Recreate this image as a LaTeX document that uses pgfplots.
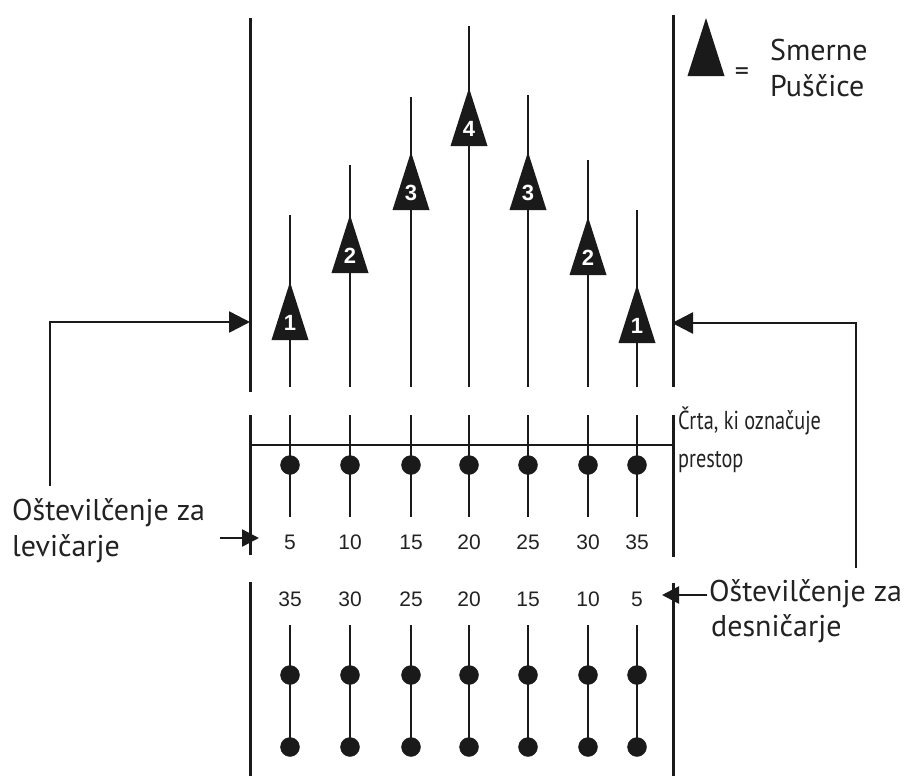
\documentclass[border=0pt]{standalone}
\usepackage{fontspec}
\setmainfont{PT Sans}
\newfontfamily\condfont[FakeStretch=0.78]{PT Sans}
\newfontfamily\numfont{Liberation Sans}
\usepackage{pgfplots}
\pgfplotsset{compat=1.18}
\usetikzlibrary{arrows.meta}

% tall target-arrow triangle, origin = centre of its digit
\pgfdeclareplotmark{arw}{%
  \pgfpathmoveto{\pgfqpoint{0pt}{41pt}}%
  \pgfpathlineto{\pgfqpoint{18.5pt}{-17pt}}%
  \pgfpathlineto{\pgfqpoint{-18.5pt}{-17pt}}%
  \pgfpathclose\pgfusepathqfill}

\definecolor{ink}{HTML}{1A1A1A}
\definecolor{txt}{HTML}{222222}

\begin{document}
\begin{tikzpicture}
\begin{axis}[
  x=1pt, y=1pt, y dir=reverse,
  xmin=0, xmax=913, ymin=0, ymax=776,
  hide axis, clip=false,
  unbounded coords=jump,
]
\addplot[draw=none, forget plot] coordinates {(0,0) (913,776)};

% lane edges
\addplot[ink, line width=3pt] coordinates {
  (250,18) (250,392) (nan,nan) (250,415) (250,555) (nan,nan) (250,582) (250,776) (nan,nan)
  (673,15) (673,387) (nan,nan) (673,415) (673,557) (nan,nan) (673,583) (673,776)};
% foul line
\addplot[ink, line width=2.4pt] coordinates {(250,445) (673,445)};

% boards above the foul line
\addplot[ink, line width=2.6pt] coordinates {
  (290,215) (290,387) (nan,nan) (350,165) (350,387) (nan,nan)
  (411,97) (411,387) (nan,nan) (469,26) (469,387) (nan,nan)
  (528,95) (528,387) (nan,nan) (588,160) (588,387) (nan,nan)
  (637,210) (637,387)};

% boards on the approach
\addplot[ink, line width=2.8pt] coordinates {
  (290,415) (290,517) (nan,nan) (350,415) (350,517) (nan,nan)
  (411,415) (411,517) (nan,nan) (469,415) (469,517) (nan,nan)
  (528,415) (528,517) (nan,nan) (588,415) (588,517) (nan,nan)
  (637,415) (637,517) (nan,nan)
  (290,625) (290,747) (nan,nan) (350,625) (350,747) (nan,nan)
  (411,625) (411,747) (nan,nan) (469,625) (469,747) (nan,nan)
  (528,625) (528,747) (nan,nan) (588,625) (588,747) (nan,nan)
  (637,625) (637,747)};

% dots
\addplot[only marks, mark=*, mark size=9.5pt, mark options={ink, fill=ink}] coordinates {
  (290,465) (350,465) (411,465) (469,465) (528,465) (588,465) (637,465)
  (290,675) (350,675) (411,675) (469,675) (528,675) (588,675) (637,675)
  (290,747) (350,747) (411,747) (469,747) (528,747) (588,747) (637,747)};

% target arrows with their numbers
\addplot[only marks, mark=arw, mark options={fill=ink}, point meta=explicit symbolic,
  nodes near coords,
  every node near coord/.append style={anchor=center, inner sep=0pt, text=white,
    font=\numfont\bfseries\fontsize{22}{22}\selectfont}]
  table[meta=m] {
x y m
290 323 1
350 256 2
411 193 3
469 129 4
528 193 3
588 258 2
637 326 1
};

% legend arrow
\addplot[only marks, mark=arw, mark options={fill=ink}] coordinates {(706,59)};

% board numbers
\addplot[only marks, mark=none, point meta=explicit symbolic, nodes near coords,
  every node near coord/.append style={anchor=center, inner sep=0pt, text=txt,
    font=\numfont\fontsize{21}{21}\selectfont}]
  table[meta=m] {
x y m
290 542 5
350 542 10
411 542 15
469 542 20
528 542 25
588 542 30
637 542 35
290 599 35
350 599 30
411 599 25
469 599 20
528 599 15
588 599 10
637 599 5
};

% pointer arrows
\addplot[ink, line width=2.6pt, -{Triangle[length=21pt,width=21pt]}] coordinates {(50,486) (50,322) (250,322)};
\addplot[ink, line width=2.6pt, -{Triangle[length=21pt,width=21pt]}] coordinates {(856,568) (856,323) (672,323)};
\addplot[ink, line width=2.4pt, -{Triangle[length=17pt,width=17pt]}] coordinates {(220,538) (259,538)};
\addplot[ink, line width=2.4pt, -{Triangle[length=17pt,width=17pt]}] coordinates {(707,595) (662,595)};

% labels
\node[anchor=west, inner sep=0pt, text=txt, font=\fontsize{30}{30}\selectfont] at (axis cs:770,50) {Smerne};
\node[anchor=west, inner sep=0pt, text=txt, font=\fontsize{30}{30}\selectfont] at (axis cs:770,86) {Puščice};
\node[anchor=center, inner sep=0pt, text=txt, font=\fontsize{28}{28}\selectfont] at (axis cs:742,74) {=};
\node[anchor=west, inner sep=0pt, text=txt, font=\fontsize{30}{30}\selectfont] at (axis cs:12,513) {Oštevilčenje za};
\node[anchor=west, inner sep=0pt, text=txt, font=\fontsize{30}{30}\selectfont] at (axis cs:12,549) {levičarje};
\node[anchor=west, inner sep=0pt, text=txt, font=\fontsize{30}{30}\selectfont] at (axis cs:709,594) {Oštevilčenje za};
\node[anchor=west, inner sep=0pt, text=txt, font=\fontsize{30}{30}\selectfont] at (axis cs:711,629) {desničarje};
\node[anchor=west, inner sep=0pt, text=txt, font=\condfont\fontsize{26}{26}\selectfont] at (axis cs:678,421) {Črta, ki označuje};
\node[anchor=west, inner sep=0pt, text=txt, font=\condfont\fontsize{26}{26}\selectfont] at (axis cs:678,462) {prestop};
\end{axis}
\end{tikzpicture}
\end{document}
